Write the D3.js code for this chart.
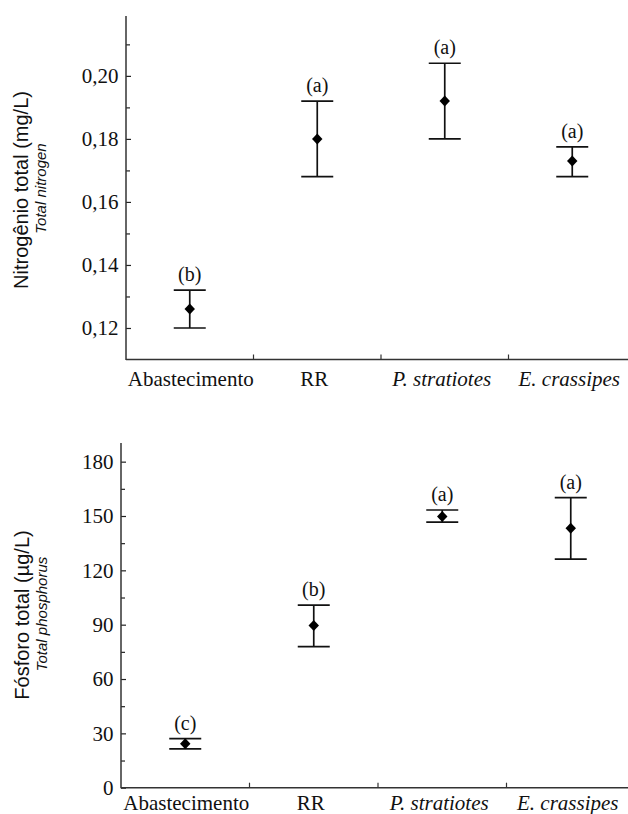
<!DOCTYPE html>
<html><head><meta charset="utf-8">
<script src="https://cdn.jsdelivr.net/npm/d3@7"></script>
<style>
html,body{margin:0;padding:0;background:#fff;}
svg{display:block;}
</style></head>
<body>
<svg id="chart" width="628" height="814"></svg>
<script>
// ---- data ----
const categories = ["Abastecimento", "RR", "P. stratiotes", "E. crassipes"];
const italicCats = [false, false, true, true];

const nMean  = [0.126, 0.180, 0.192, 0.173];
const nUpper = [0.132, 0.192, 0.204, 0.1775];
const nLower = [0.120, 0.168, 0.180, 0.168];
const nGroups = ["(b)", "(a)", "(a)", "(a)"];
const nTicks = [0.12, 0.14, 0.16, 0.18, 0.20];
const nMinorTicks = [0.13, 0.15, 0.17, 0.19, 0.21];

const pMean  = [24.3, 89.5, 149.7, 143.3];
const pUpper = [27.1, 100.8, 153.3, 160.1];
const pLower = [21.4, 77.9, 146.6, 126.2];
const pGroups = ["(c)", "(b)", "(a)", "(a)"];
const pTicks = [0, 30, 60, 90, 120, 150, 180];
const pMinorTicks = [15, 45, 75, 105, 135, 165];

const svg = d3.select("#chart");
const SERIF = '"Liberation Serif"';
const SANS = '"Liberation Sans"';

function panel(cfg) {
  const g = svg.append("g");
  const x = d3.scaleBand().domain(categories).range(cfg.xRange).padding(0);
  const y = d3.scaleLinear().domain(cfg.yDomain).range(cfg.yRange);
  const x0 = cfg.xRange[0], yb = cfg.yRange[0], yt = cfg.yRange[1];

  // y axis ticks (inward)
  const yAxis = d3.axisRight(y).tickValues(cfg.ticks).tickSize(5).tickFormat(() => "");
  const ya = g.append("g").attr("transform", `translate(${x0},0)`).call(yAxis);
  ya.select(".domain").remove();
  const yMinor = d3.axisRight(y).tickValues(cfg.minor).tickSize(4).tickFormat(() => "");
  const ym = g.append("g").attr("transform", `translate(${x0},0)`).call(yMinor);
  ym.select(".domain").remove();
  g.selectAll(".tick line").attr("stroke", "#222").attr("stroke-width", 1.2);

  // y tick labels
  g.selectAll("text.ylab").data(cfg.ticks).enter().append("text")
    .attr("class", "ylab")
    .attr("x", x0 - 7.5).attr("y", d => y(d)).attr("dy", "0.35em")
    .attr("text-anchor", "end")
    .style("font-family", SERIF).style("font-size", "21px").attr("fill", "#111")
    .text(cfg.fmt);

  // axis lines
  g.append("line").attr("x1", x0).attr("x2", x0).attr("y1", yt).attr("y2", yb + 0.5)
    .attr("stroke", "#333").attr("stroke-width", 1.5);
  g.append("line").attr("x1", x0).attr("x2", cfg.xRange[1]).attr("y1", yb).attr("y2", yb)
    .attr("stroke", "#333").attr("stroke-width", 1.5);

  // x category separator ticks (inward)
  const seps = categories.slice(1).map(c => x(c));
  g.selectAll("line.xsep").data(seps).enter().append("line")
    .attr("x1", d => d).attr("x2", d => d).attr("y1", yb).attr("y2", yb - 5)
    .attr("stroke", "#333").attr("stroke-width", 1.2);

  // x labels
  g.selectAll("text.xlab").data(categories).enter().append("text")
    .attr("class", "xlab")
    .attr("x", (d, i) => x(d) + x.bandwidth() / 2 - (i === 0 ? -1 : 3))
    .attr("y", cfg.xLabelY)
    .attr("text-anchor", "middle")
    .style("font-family", SERIF).style("font-size", "21px")
    .style("font-style", (d, i) => italicCats[i] ? "italic" : "normal")
    .attr("fill", "#111")
    .text(d => d);

  // error bars
  const cx = i => x(categories[i]) + x.bandwidth() / 2;
  const capW = 16;
  const idx = d3.range(categories.length);
  const eb = g.append("g").attr("stroke", "#111").attr("stroke-width", 1.7);
  eb.selectAll("line.v").data(idx).enter().append("line")
    .attr("x1", cx).attr("x2", cx)
    .attr("y1", i => y(cfg.upper[i])).attr("y2", i => y(cfg.lower[i]));
  eb.selectAll("line.u").data(idx).enter().append("line")
    .attr("x1", i => cx(i) - capW).attr("x2", i => cx(i) + capW)
    .attr("y1", i => y(cfg.upper[i])).attr("y2", i => y(cfg.upper[i]));
  eb.selectAll("line.l").data(idx).enter().append("line")
    .attr("x1", i => cx(i) - capW).attr("x2", i => cx(i) + capW)
    .attr("y1", i => y(cfg.lower[i])).attr("y2", i => y(cfg.lower[i]));

  // diamonds
  const r = 5.5;
  g.selectAll("path.dm").data(idx).enter().append("path")
    .attr("d", i => {
      const px = cx(i), py = y(cfg.mean[i]);
      return `M${px},${py - r}L${px + r * 0.95},${py}L${px},${py + r}L${px - r * 0.95},${py}Z`;
    })
    .attr("fill", "#000");

  // group letters
  g.selectAll("text.grp").data(idx).enter().append("text")
    .attr("class", "grp")
    .attr("x", cx).attr("y", i => y(cfg.upper[i]) - 9)
    .attr("text-anchor", "middle")
    .style("font-family", SERIF).style("font-size", "20px").attr("fill", "#111")
    .text(i => cfg.groups[i]);

  // y titles
  g.append("text")
    .attr("transform", `translate(${cfg.titleX},${cfg.titleY}) rotate(-90)`)
    .attr("text-anchor", "middle")
    .style("font-family", SANS).style("font-size", "20px").attr("fill", "#111")
    .text(cfg.title);
  g.append("text")
    .attr("transform", `translate(${cfg.subX},${cfg.subY}) rotate(-90)`)
    .attr("text-anchor", "middle")
    .style("font-family", SANS).style("font-size", "15px").style("font-style", "italic")
    .attr("fill", "#111")
    .text(cfg.subtitle);
}

panel({
  xRange: [126, 636], yDomain: [0.11, 0.219], yRange: [359.5, 16],
  ticks: nTicks, minor: nMinorTicks,
  fmt: d => d3.format(".2f")(d).replace(".", ","),
  mean: nMean, upper: nUpper, lower: nLower, groups: nGroups,
  xLabelY: 385.5,
  title: "Nitrogênio total (mg/L)", titleX: 28, titleY: 190,
  subtitle: "Total nitrogen", subX: 46, subY: 188.5
});

panel({
  xRange: [121, 635], yDomain: [0, 190.3], yRange: [787.7, 443],
  ticks: pTicks, minor: pMinorTicks,
  fmt: d => String(d),
  mean: pMean, upper: pUpper, lower: pLower, groups: pGroups,
  xLabelY: 810,
  title: "Fósforo total (µg/L)", titleX: 29, titleY: 615,
  subtitle: "Total phosphorus", subX: 47, subY: 614
});
</script>
</body></html>
